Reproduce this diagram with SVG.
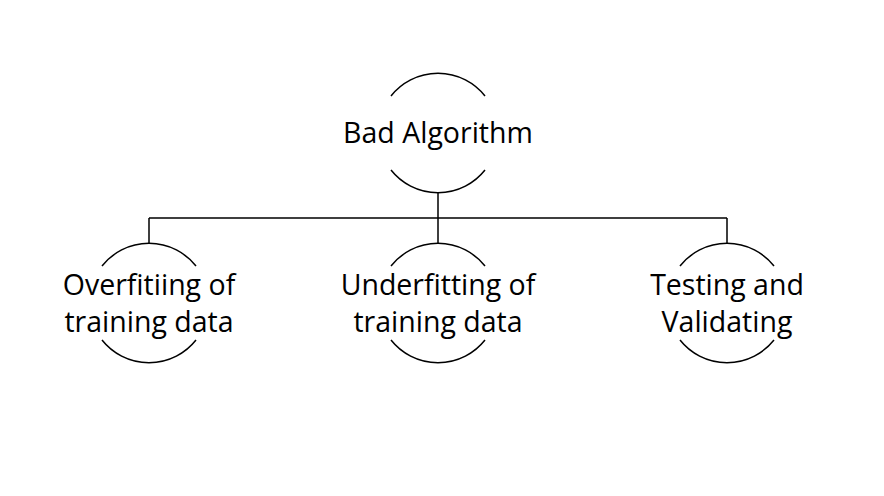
<svg xmlns="http://www.w3.org/2000/svg" width="884" height="496" viewBox="0 0 884 496">
<style>
.arc{fill:none;stroke:#000;stroke-width:1.5}
.conn{fill:none;stroke:#000;stroke-width:1.5}
text{font-family:"Open Sans","Liberation Sans",sans-serif;font-size:28.5px;fill:#000;text-anchor:middle}
</style>
<rect width="884" height="496" fill="#fff"/>
<g id="connectors">
<path class="conn" d="M438 193V218M149 218H727M149 218V243M438 218V243M727 218V243"/>
</g>
<g id="root">
<path class="arc" d="M391 96A60 60 0 0 1 485 96M391 170A60 60 0 0 0 485 170"/>
<text x="438" y="143">Bad Algorithm</text>
</g>
<g id="overfitting">
<path class="arc" d="M102 266A60 60 0 0 1 196 266M102 340A60 60 0 0 0 196 340"/>
<text x="149" y="295">Overfitiing of</text>
<text x="149" y="332">training data</text>
</g>
<g id="underfitting">
<path class="arc" d="M391 266A60 60 0 0 1 485 266M391 340A60 60 0 0 0 485 340"/>
<text x="438" y="295">Underfitting of</text>
<text x="438" y="332">training data</text>
</g>
<g id="testing">
<path class="arc" d="M680 266A60 60 0 0 1 774 266M680 340A60 60 0 0 0 774 340"/>
<text x="727" y="295">Testing and</text>
<text x="727" y="332">Validating</text>
</g>
</svg>
